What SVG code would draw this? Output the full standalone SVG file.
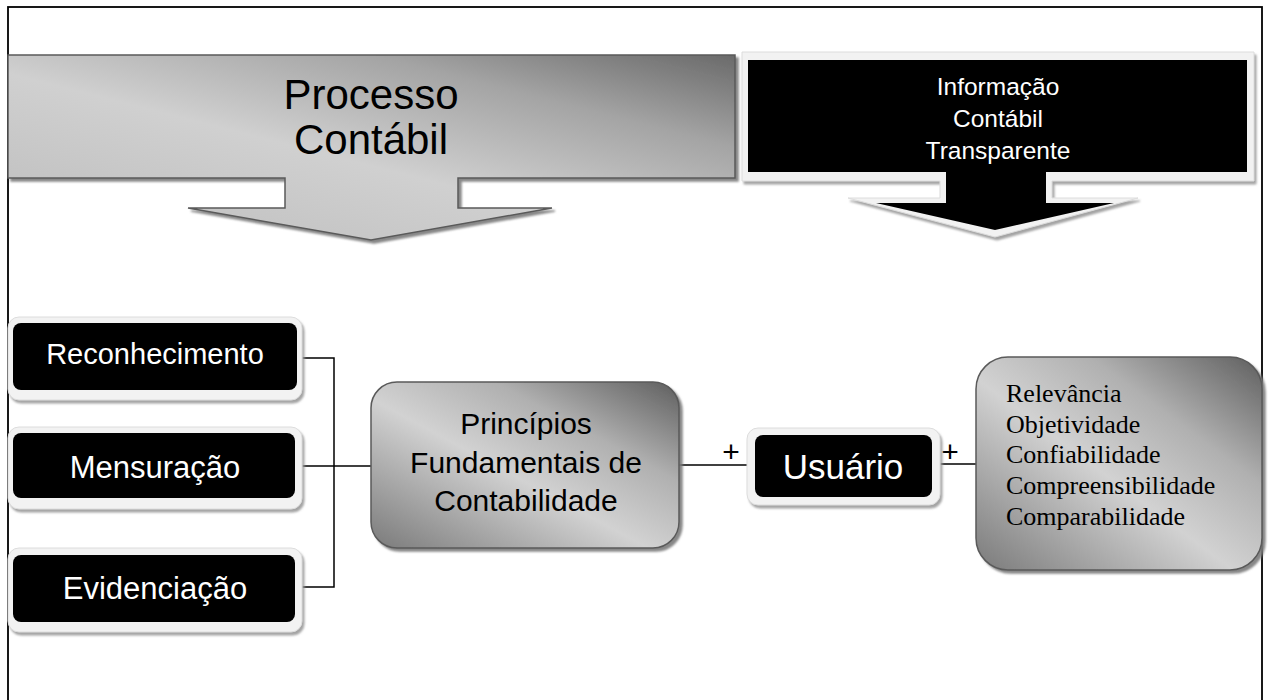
<svg xmlns="http://www.w3.org/2000/svg" width="1270" height="700" viewBox="0 0 1270 700">
<defs>
<linearGradient id="gArrow" x1="0" y1="1" x2="1" y2="0">
<stop offset="0" stop-color="#bcbcbc"/>
<stop offset="0.45" stop-color="#d0d0d0"/>
<stop offset="0.75" stop-color="#a4a4a4"/>
<stop offset="1" stop-color="#6a6a6a"/>
</linearGradient>
<linearGradient id="gBox" x1="0" y1="1" x2="1" y2="0">
<stop offset="0" stop-color="#7a7a7a"/>
<stop offset="0.45" stop-color="#d2d2d2"/>
<stop offset="0.7" stop-color="#b0b0b0"/>
<stop offset="1" stop-color="#5e5e5e"/>
</linearGradient>
<filter id="sh" x="-10%" y="-10%" width="120%" height="130%">
<feDropShadow dx="3" dy="3" stdDeviation="1.2" flood-color="#7a7a7a" flood-opacity="0.9"/>
</filter>
<filter id="shl" x="-10%" y="-10%" width="120%" height="130%">
<feDropShadow dx="2" dy="3" stdDeviation="1" flood-color="#9a9a9a" flood-opacity="0.9"/>
</filter>
</defs>
<style>
.frame{fill:#f2f2f2;stroke:#dcdcdc;stroke-width:1}
.blk{fill:#000}
.gray{stroke:#5a5a5a;stroke-width:1.5}
.sans{font-family:"Liberation Sans",Arial,sans-serif}
.wt{fill:#fff;text-anchor:middle}
.bt{fill:#000;text-anchor:middle}
.conn{fill:none;stroke:#000;stroke-width:1.5}
</style>
<rect x="8" y="7" width="1254" height="720" fill="none" stroke="#000" stroke-width="1.8"/>

<g id="processo">
<path d="M8,55 H735 V178 H458 V208 H552 L371,240 L188,208 H285 V178 H8 Z" fill="url(#gArrow)" class="gray" filter="url(#sh)"/>
<text class="sans bt" x="371" y="109" font-size="42">Processo</text>
<text class="sans bt" x="371" y="154" font-size="42">Contábil</text>
</g>

<g id="informacao">
<path d="M742,52 H1254 V181 H1052 V198 H1138 L995,237 L848,198 H940 V181 H742 Z" class="frame" filter="url(#shl)"/>
<path d="M748,60 H1247 V172 H1046 V203 H1114 L995,230 L876,203 H946 V172 H748 Z" class="blk"/>
<text class="sans wt" x="998" y="95" font-size="24.5">Informação</text>
<text class="sans wt" x="998" y="127" font-size="24.5">Contábil</text>
<text class="sans wt" x="998" y="159" font-size="24.5">Transparente</text>
</g>

<g id="connectors">
<polyline class="conn" points="302,358 334,358 334,587 300,587"/>
<line class="conn" x1="300" y1="466" x2="372" y2="466"/>
<line class="conn" x1="678" y1="465" x2="748" y2="465"/>
<line class="conn" x1="937" y1="464" x2="987" y2="464"/>
<text class="sans bt" x="731" y="462" font-size="30">+</text>
<text class="sans bt" x="950" y="462" font-size="30">+</text>
</g>

<g id="reconhecimento">
<rect x="8" y="317" width="294" height="83" rx="11" class="frame" filter="url(#shl)"/>
<rect x="13" y="323" width="284" height="67" rx="8" class="blk"/>
<text class="sans wt" x="155" y="364" font-size="29">Reconhecimento</text>
</g>

<g id="mensuracao">
<rect x="8" y="427" width="294" height="82" rx="11" class="frame" filter="url(#shl)"/>
<rect x="13" y="433" width="282" height="65" rx="8" class="blk"/>
<text class="sans wt" x="155" y="478" font-size="31">Mensuração</text>
</g>

<g id="evidenciacao">
<rect x="8" y="548" width="294" height="84" rx="11" class="frame" filter="url(#shl)"/>
<rect x="13" y="555" width="282" height="67" rx="8" class="blk"/>
<text class="sans wt" x="155" y="599" font-size="31">Evidenciação</text>
</g>

<g id="principios">
<rect x="371" y="382" width="308" height="166" rx="26" fill="url(#gBox)" class="gray" filter="url(#sh)"/>
<text class="sans bt" x="526" y="434" font-size="30">Princípios</text>
<text class="sans bt" x="526" y="473" font-size="30">Fundamentais de</text>
<text class="sans bt" x="526" y="511" font-size="30">Contabilidade</text>
</g>

<g id="usuario">
<rect x="747" y="428" width="193" height="77" rx="11" class="frame" filter="url(#shl)"/>
<rect x="755" y="435" width="177" height="62" rx="8" class="blk"/>
<text class="sans wt" x="843" y="479" font-size="35">Usuário</text>
</g>

<g id="qualidades">
<rect x="976" y="357" width="286" height="213" rx="32" fill="url(#gBox)" class="gray" filter="url(#sh)"/>
<g font-family="'Liberation Serif','Times New Roman',serif" font-size="26" fill="#000">
<text x="1006" y="402">Relevância</text>
<text x="1006" y="433">Objetividade</text>
<text x="1006" y="463">Confiabilidade</text>
<text x="1006" y="494">Compreensibilidade</text>
<text x="1006" y="525">Comparabilidade</text>
</g>
</g>
</svg>
